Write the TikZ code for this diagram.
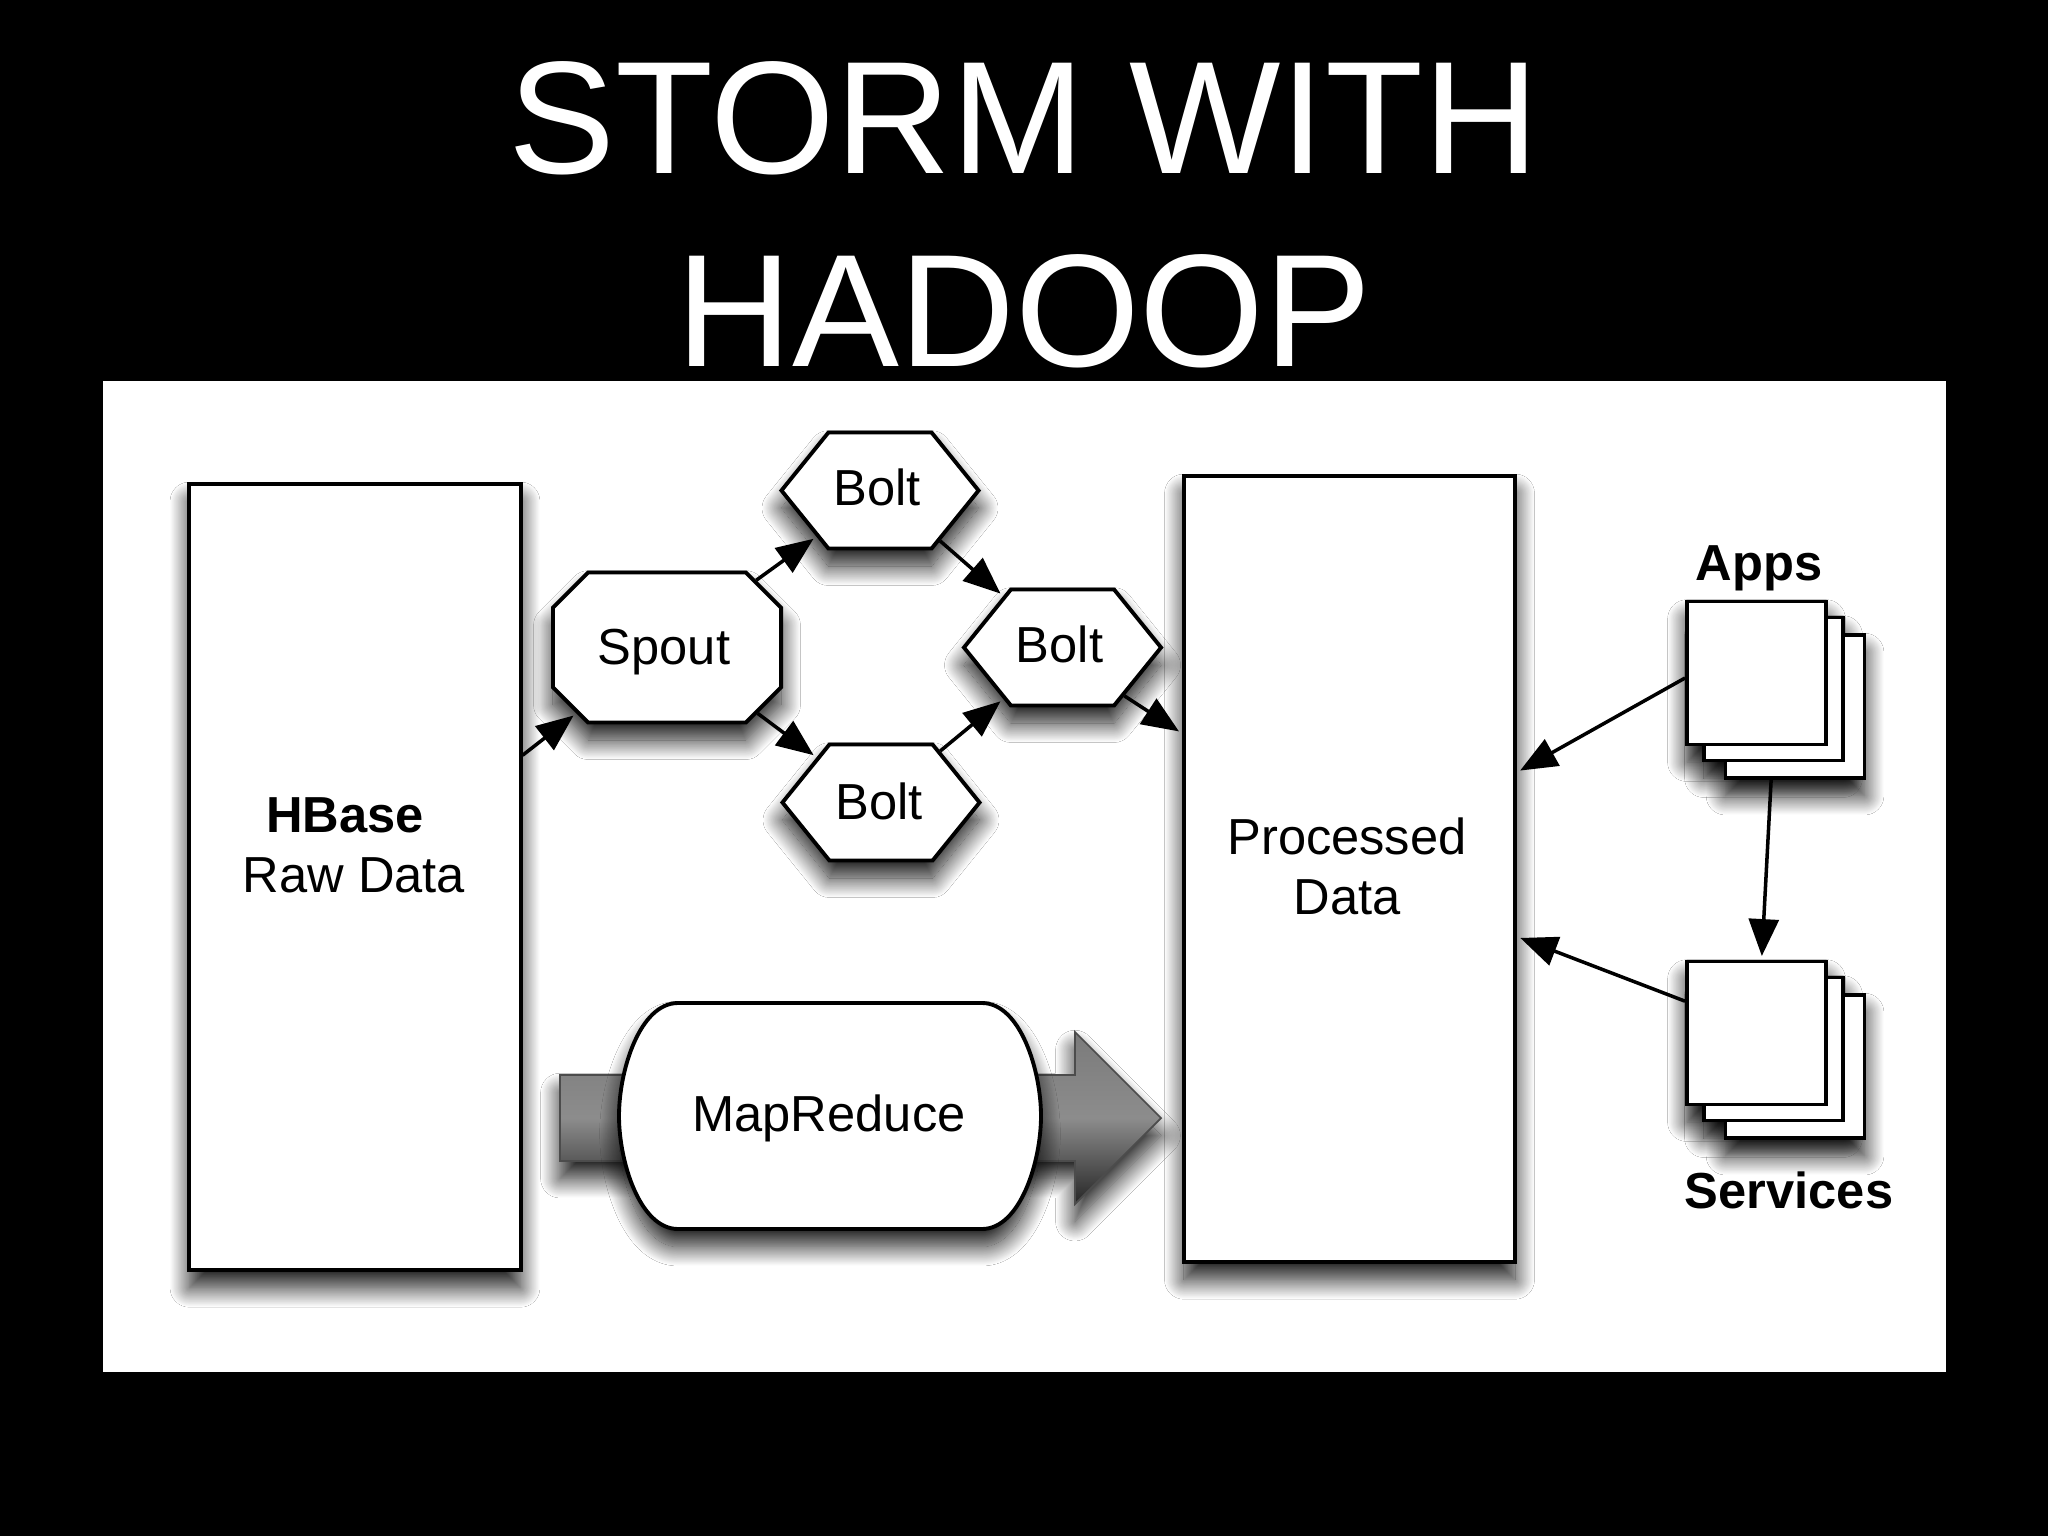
\documentclass[tikz,border=0pt]{standalone}
\usepackage{fontspec}
\setmainfont{Liberation Sans}
\usetikzlibrary{shapes.misc, shapes.symbols, arrows.meta, shadows.blur}

\tikzset{
  softshadow/.style={blur shadow={shadow xshift=0pt, shadow yshift=-5pt, shadow blur radius=5.5pt, shadow blur steps=30, shadow opacity=90}},
  store/.style={draw, line width=1.1pt, fill=white, minimum width=3.31cm, minimum height=7.86cm, inner sep=0pt, softshadow},
  spoutbox/.style={draw, line width=1.1pt, fill=white, chamfered rectangle, chamfered rectangle xsep=0.3cm, minimum width=2.28cm, minimum height=1.5cm, inner sep=0pt, softshadow},
  boltbox/.style={draw, line width=1.1pt, fill=white, signal, signal to=west and east, signal pointer angle=102, minimum width=1.97cm, minimum height=1.16cm, inner sep=0pt, softshadow},
  card/.style={draw, line width=1.1pt, fill=white, minimum width=1.39cm, minimum height=1.43cm, inner sep=0pt},
  conn/.style={->, line width=1pt, >={Triangle[length=10.5pt, width=8.5pt, color=black, fill=black]}, shorten >=1pt},
}

\begin{document}
\begin{tikzpicture}[x=0.01cm, y=-0.01cm, font=\fontsize{14.4}{17}\selectfont]
\fill[black] (0,0) rectangle (2048,1536);
\node[white, align=center, font=\fontsize{45.6}{55}\selectfont] (title) at (1024,215) {STORM WITH\\HADOOP};
\fill[white] (103,381) rectangle (1946,1372);
% Stores
\node[store] (hbase) at (355,877) {};
\node[align=center] (hbasetext) at (354,845) {\textbf{HBase}\hspace*{0.36em}\\Raw Data};
\node[store] (processed) at (1349.5,869) {};
\node[align=center] (processedtext) at (1347,866) {Processed\\Data};
% Gray arrow
\path[draw=black!70, line width=0.5pt, top color=black!52, bottom color=black!85, middle color=black!45, softshadow]
  (560,1075) -- (1075,1075) -- (1075,1032) -- (1161,1118) -- (1075,1204) -- (1075,1161) -- (560,1161) -- cycle;
\path[draw, line width=1.1pt, fill=white, softshadow]
  (678,1003) -- (982,1003) .. controls (1020,1003) and (1041,1070) .. (1041,1116)
  .. controls (1041,1162) and (1020,1229) .. (982,1229) -- (678,1229)
  .. controls (640,1229) and (619,1162) .. (619,1116) .. controls (619,1070) and (640,1003) .. (678,1003) -- cycle;
\node (mapreduce) at (829,1118) {MapReduce};
% Storm
\node[spoutbox] (spout) at (667,647.5) {\phantom{Spout}};
\node[boltbox] (bolttop) at (880,490.5) {};
\node[boltbox] (boltright) at (1062.5,647.5) {};
\node[boltbox] (boltbottom) at (881,802.5) {};
\node (spouttext) at (664,652.5) {Spout};
\node (bolttoptext) at (877,487.5) {Bolt};
\node (boltrighttext) at (1059.5,644.5) {Bolt};
\node (boltbottomtext) at (879,801) {Bolt};
% Stacks
\foreach \cx/\cy in {1795/706.5, 1773.5/689, 1756.5/673, 1795/1066.5, 1773.5/1049, 1756.5/1033}
  \node[card, softshadow] at (\cx,\cy) {};
\node[card] (appsback) at (1795,706.5) {};
\node[card] (appsmid) at (1773.5,689) {};
\node[card] (appsfront) at (1756.5,673) {};
\node[card] (servicesback) at (1795,1066.5) {};
\node[card] (servicesmid) at (1773.5,1049) {};
\node[card] (servicesfront) at (1756.5,1033) {};
\node[font=\fontsize{14.4}{17}\selectfont\bfseries] (apps) at (1759,568) {Apps};
\node[font=\fontsize{14.4}{17}\selectfont\bfseries] (services) at (1789,1190) {Services};
% Arrows
\draw [conn] (hbase.36.5)--(spout.216.5);
\draw [conn] (spout.37)--(bolttop.216);
\draw [conn] (spout.-36)--(boltbottom.145);
\draw [conn] (bolttop.-40)--(boltright.139);
\draw [conn] (boltbottom.41)--(boltright.221);
\draw [conn] (boltright.-38)--(processed.141.6);
\draw [conn] (appsfront.184)--(processed.30.7);
\draw [conn] (servicesfront.156.3)--(processed.-22.5);
\draw [conn] (appsback.252.4)--(servicesfront.86);
\end{tikzpicture}
\end{document}
